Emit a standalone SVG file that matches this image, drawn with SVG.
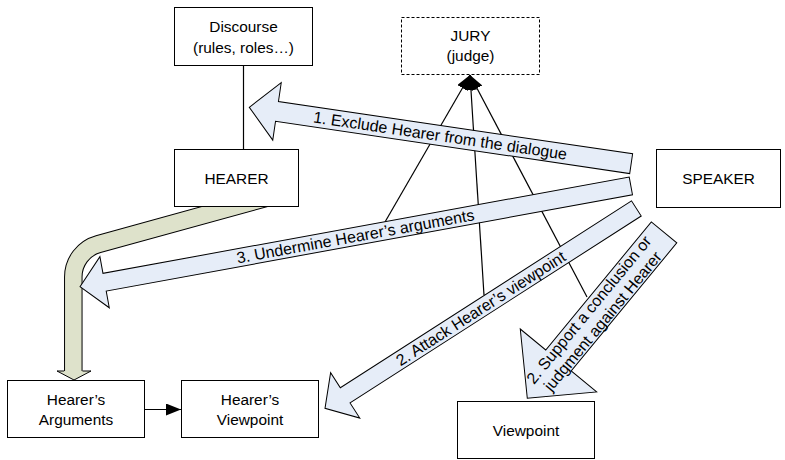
<svg xmlns="http://www.w3.org/2000/svg" width="785" height="460" viewBox="0 0 785 460">
<defs>
<style>
.box{fill:#fff;stroke:#000;stroke-width:1}
.dash{fill:#fff;stroke:#000;stroke-width:1;stroke-dasharray:3,2}
.t{font-family:"Liberation Sans",Arial,sans-serif;font-size:15.4px;fill:#000;text-anchor:middle}
.a{font-family:"Liberation Sans",Arial,sans-serif;font-size:16px;fill:#000;text-anchor:middle}
.ln{stroke:#000;stroke-width:1.2;fill:none}
.blue{fill:#E6EDF8;stroke:#000;stroke-width:1}
</style>
<marker id="ah" markerUnits="userSpaceOnUse" markerWidth="16" markerHeight="12" refX="15" refY="6" orient="auto">
<path d="M0,0 L15,6 L0,12 Z" fill="#000"/>
</marker>
</defs>
<rect width="785" height="460" fill="#fff"/>
<g id="connectors">
<line class="ln" x1="243.5" y1="66" x2="243.5" y2="149"/>
<line class="ln" x1="385" y1="222" x2="470" y2="75" marker-end="url(#ah)"/>
<line class="ln" x1="484" y1="295" x2="470" y2="75" marker-end="url(#ah)"/>
<line class="ln" x1="587" y1="297" x2="470" y2="75" marker-end="url(#ah)"/>
<line class="ln" x1="145" y1="409.5" x2="181" y2="409.5" marker-end="url(#ah)"/>
<g id="olive-arrow">
<path d="M280,194 L98.3,244.1 A34,34 0 0 0 73.3,276.9 L73.3,371" fill="none" stroke="#000" stroke-width="18.5"/>
<path d="M280,194 L98.3,244.1 A34,34 0 0 0 73.3,276.9 L73.3,371" fill="none" stroke="#DEE2CB" stroke-width="16.5"/>
<path d="M64.1,371 L57,371 L74,380 L91,371 L82.5,371" fill="#DEE2CB" stroke="#000" stroke-width="1"/>
</g>
<g id="arrow1" transform="translate(249.3,107.3) rotate(8.4)">
<polygon class="blue" points="0,0 28,-29 28,-10 386,-10 386,10 28,10 28,29"/>
<text class="a" x="193" y="5.6">1. Exclude Hearer from the dialogue</text>
</g>
<g id="arrow3" transform="translate(80,286.7) rotate(-10.37)">
<polygon class="blue" points="0,0 25,-26 25,-9 560,-9 560,9 25,9 25,26"/>
<text class="a" x="280" y="5.6">3. Undermine Hearer’s arguments</text>
</g>
<g id="arrow2" transform="translate(325,408.3) rotate(-32.7)">
<polygon class="blue" points="0,0 24,-27 24,-9 370,-9 370,9 24,9 24,27"/>
<text class="a" x="185" y="5.6">2. Attack Hearer’s viewpoint</text>
</g>
<g id="arrow2b" transform="translate(527.3,398.3) rotate(-50.5)">
<polygon class="blue" points="0,0 49,-49.5 49,-16.5 215,-16.5 215,16.5 49,16.5 49,49.5"/>
<text class="a" x="107.5" y="-3.4">2. Support a conclusion or</text>
<text class="a" x="107.5" y="14.6">judgment against Hearer</text>
</g>
</g>
<g id="discourse">
<rect class="box" x="174.5" y="7.5" width="138" height="58"/>
<text class="t" x="243.5" y="31.5">Discourse</text>
<text class="t" x="243.5" y="52.5">(rules, roles…)</text>
</g>
<g id="jury">
<rect class="dash" x="401.5" y="17.5" width="138" height="57"/>
<text class="t" x="470.5" y="40.5">JURY</text>
<text class="t" x="470.5" y="60.5">(judge)</text>
</g>
<g id="hearer">
<rect class="box" x="174.5" y="149.5" width="124" height="57"/>
<text class="t" x="236.5" y="183.5">HEARER</text>
</g>
<g id="speaker">
<rect class="box" x="656.5" y="149.5" width="124" height="58"/>
<text class="t" x="718.5" y="184">SPEAKER</text>
</g>
<g id="hearers-arguments">
<rect class="box" x="7.5" y="380.5" width="137" height="57"/>
<text class="t" x="76" y="404.5">Hearer’s</text>
<text class="t" x="76" y="424.5">Arguments</text>
</g>
<g id="hearers-viewpoint">
<rect class="box" x="181.5" y="380.5" width="137" height="57"/>
<text class="t" x="250" y="404.5">Hearer’s</text>
<text class="t" x="250" y="424.5">Viewpoint</text>
</g>
<g id="viewpoint">
<rect class="box" x="457.5" y="401.5" width="137" height="57"/>
<text class="t" x="526" y="435.5">Viewpoint</text>
</g>
</svg>
